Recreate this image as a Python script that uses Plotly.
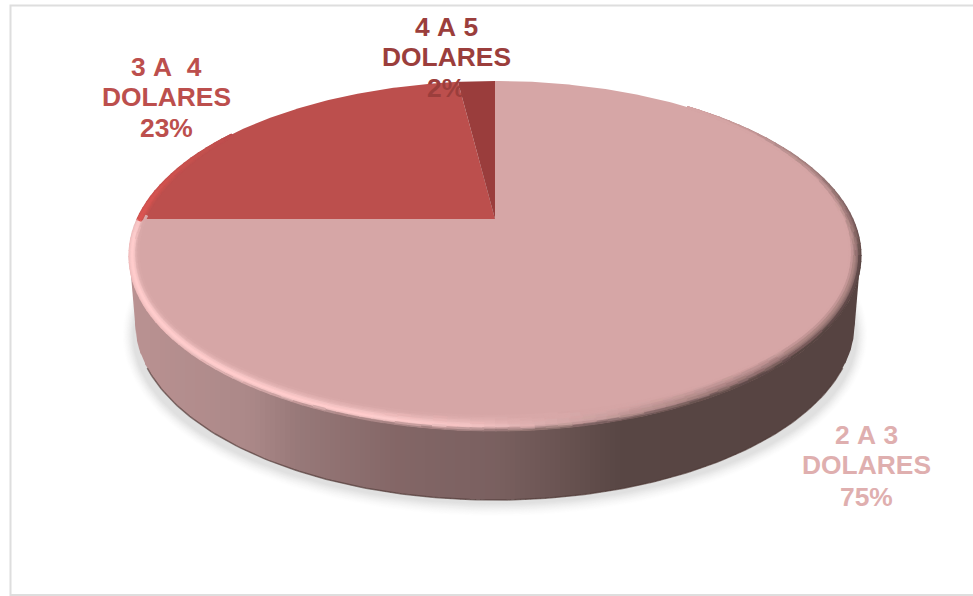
import numpy as np
import plotly.graph_objects as go

# ---- data ----
categories = ["2 A 3", "3 A  4", "4 A 5"]
unit_label = "DOLARES"
values = [75, 23, 2]

# ---- styles ----
slice_colors = ["#d6a6a6", "#bc4f4d", "#9a3d3c"]
label_colors = ["#dfafaf", "#bc4f4d", "#9b3e3c"]
label_x = [866, 166, 446]
label_y = [[435, 465, 497], [67, 97, 128], [27, 57, 88]]
FONT = "Liberation Sans, Arial, sans-serif"
W, H = 973, 596

# pie projection
CX, CY, A, B, K = 495.0, 219.0, 358.0, 167.2, 0.2113
# screen outlines of the lid and of the base
TOP = (495.0, 256.0, 366.0, 175.0)
BOT = (495.0, 322.0, 360.0, 178.0)


def project(u, v):
    d = 1 + K * v
    return CX + A * u / d, CY - B * v / d


def hex_rgb(h):
    return np.array([int(h[i:i + 2], 16) for i in (1, 3, 5)], float)


def rgb(c):
    c = np.clip(c, 0, 255)
    return "rgb(%d,%d,%d)" % tuple(np.round(c))


fig = go.Figure()


def poly(xs, ys, color):
    fig.add_trace(go.Scatter(x=xs, y=ys, mode="lines", fill="toself", fillcolor=color,
                             line=dict(width=0, color=color), hoverinfo="skip", showlegend=False))


# ---- soft shadow ----
for i, t in enumerate(np.linspace(0, 1, 16)):
    a = 374 - 12 * t
    b = 183 - 14 * t
    ph = np.linspace(0, 2 * np.pi, 181)
    g = 255 - (255 - 224) * t ** 1.6
    poly(495 + a * np.cos(ph), 335 + b * np.sin(ph), rgb(np.array([g, g, g])))

# ---- wall ----
wall_x = [130, 250, 300, 400, 495, 560, 620, 862]
wall_c = ["#ba9292", "#ab8888", "#977878", "#836666", "#7a6060", "#6a5452", "#584644", "#564341"]
wall_rgb = np.array([hex_rgb(c) for c in wall_c])
WALL_TOP = 258.0
WALL_L, WALL_R = 129.5, 860.5
# side pieces joining the widest point of the lid to the base
poly([WALL_L, BOT[0] - BOT[2], BOT[0] - BOT[2] + 6, BOT[0] - BOT[2] + 6], [WALL_TOP, BOT[1], BOT[1] + 30, WALL_TOP],
     rgb(wall_rgb[0]))
poly([WALL_R, BOT[0] + BOT[2], BOT[0] + BOT[2] - 6, BOT[0] + BOT[2] - 6], [WALL_TOP, BOT[1], BOT[1] + 30, WALL_TOP],
     rgb(wall_rgb[-1]))
edges = np.arange(135, 856, 5.0)
edges = np.concatenate([[BOT[0] - BOT[2]], edges, [BOT[0] + BOT[2]]])
for x0, x1 in zip(edges[:-1], edges[1:]):
    xs = np.linspace(x0, min(x1 + 1.2, BOT[0] + BOT[2]), 4)
    ybot = BOT[1] + BOT[3] * np.sqrt(np.clip(1 - ((xs - BOT[0]) / BOT[2]) ** 2, 0, 1))
    col = [np.interp((x0 + x1) / 2, wall_x, wall_rgb[:, j]) for j in range(3)]
    poly(np.r_[xs, xs[::-1]], np.r_[ybot, np.full(4, WALL_TOP)], rgb(np.array(col)))
# dark lower edge of the wall
ph = np.radians(np.linspace(15, 165, 151))
fig.add_trace(go.Scatter(x=BOT[0] + BOT[2] * np.cos(ph), y=BOT[1] + BOT[3] * np.sin(ph), mode="lines",
                         line=dict(width=1.5, color="rgba(80,58,56,0.65)"), hoverinfo="skip", showlegend=False))

# ---- lid: slices clockwise from 12 o'clock ----
start = 0.0
total = float(sum(values))
for val, col in zip(values, slice_colors):
    end = start + val / total * 2 * np.pi
    th = np.linspace(start, end, max(int(val * 6), 12))
    px, py = project(np.sin(th), np.cos(th))
    poly(np.r_[CX, px, CX], np.r_[CY, py, CY], col)
    start = end

# ---- bevel along the lid rim ----
base_pink = hex_rgb(slice_colors[0])
base_red = hex_rgb(slice_colors[1])
light_pink = np.array([255, 206, 206.0])
light_red = np.array([226, 86, 82.0])
dark = np.array([84, 64, 62.0])
N_RING = 11
groups = {}
step = 2.0
ang_w = [60, 125, 150, 180, 225, 270, 315, 360, 420]
val_w = [0, 0, 5, 10, 14, 16, 16, 12, 0]
for r in range(N_RING):
    t = (r + 0.5) / N_RING
    for deg in np.arange(0, 360, step):
        mid = deg + step / 2
        m2 = mid if mid > 60 else mid + 360
        w = np.interp(m2, ang_w, val_w)
        L = np.clip((mid - 135) / 40, 0, 1) * np.clip((310 - mid) / 60, 0, 1)
        Dk = np.clip((m2 - 265) / 60, 0, 1) * np.clip((420 - m2) / 60, 0, 1)
        if w < 0.5 or (L == 0 and Dk == 0):
            continue
        ph0 = np.radians([deg, deg + step + 0.3])
        xs = TOP[0] + (TOP[2] - w * t) * np.cos(ph0)
        ys = TOP[1] - (TOP[3] - w * t) * np.sin(ph0)
        is_red = ys.mean() < CY - 0.5 and xs.mean() < CX
        base = base_red if is_red else base_pink
        light = light_red if is_red else light_pink
        prof = np.clip(1 - abs(t - 0.3) / 0.7, 0, 1) ** 1.1
        c = base + (light - base) * L * prof + (dark - base) * Dk * (1 - t) ** 1.3
        # the front of the rim melts into the wall colour
        lip = np.clip((mid - 205) / 40, 0, 1) * np.clip(1 - t / 0.25, 0, 1) * (0.8 if 205 < mid <= 360 else 0)
        wall_here = np.array([np.interp(xs.mean(), wall_x, wall_rgb[:, j]) for j in range(3)])
        c = c + (wall_here - c) * lip
        key = rgb(np.round(c / 3) * 3)
        g = groups.setdefault(key, ([], []))
        g[0].extend(list(xs) + [None])
        g[1].extend(list(ys) + [None])
for key, (gx, gy) in groups.items():
    fig.add_trace(go.Scatter(x=gx, y=gy, mode="lines", line=dict(width=2.2, color=key),
                             hoverinfo="skip", showlegend=False))

# ---- labels, one real text per line ----
anns = []
for cat, val, col, lx, lys in zip(categories, values, label_colors, label_x, label_y):
    lines = [cat.replace(" ", "\u00a0"), unit_label, f"{val}%"]
    for txt, ly in zip(lines, lys):
        anns.append(dict(x=lx, y=ly, xref="x", yref="y", text=f"<b>{txt}</b>", showarrow=False,
                         xanchor="center", yanchor="middle", font=dict(family=FONT, size=26.4, color=col)))

fig.update_layout(
    width=W, height=H, margin=dict(l=0, r=0, t=0, b=0), autosize=False,
    paper_bgcolor="white", plot_bgcolor="white", showlegend=False, annotations=anns,
    xaxis=dict(range=[0, W], visible=False, fixedrange=True),
    yaxis=dict(range=[H, 0], visible=False, fixedrange=True),
    shapes=[dict(type="rect", xref="x", yref="y", x0=10.5, y0=5.5, x1=W + 5, y1=595,
                 line=dict(color="#dedede", width=2), layer="below")],
)
fig.write_html("out.html", config={"displayModeBar": False},
               post_script="document.body.style.margin='0';document.body.style.overflow='hidden';")
